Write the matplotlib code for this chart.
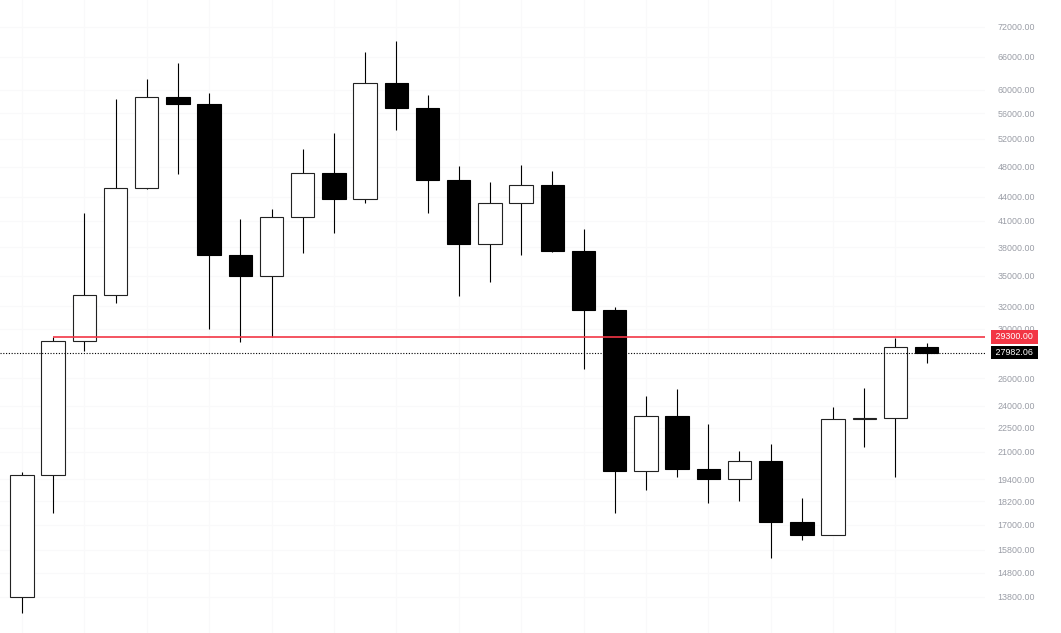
import numpy as np
import matplotlib.pyplot as plt
from matplotlib.transforms import blended_transform_factory

# monthly candles (log price scale)
opens = [13790, 19630, 28950, 33080, 45110, 58730, 57550, 37150, 34950, 41470,
         47110, 43690, 61160, 56880, 46170, 38350, 43160, 45500, 37580, 31670,
         19860, 23300, 19980, 19400, 20440, 17130, 16500, 23090, 23140, 28450]
highs = [19810, 29290, 41960, 58380, 61870, 64800, 59410, 41240, 42450, 50510,
         52900, 66900, 69080, 59060, 48080, 45900, 48220, 47390, 40060, 31950,
         24680, 25190, 22760, 21050, 21480, 18370, 23910, 25270, 29210, 28780]
lows = [13160, 17580, 28120, 32320, 44980, 46980, 29980, 28870, 29290, 37360,
        39590, 43190, 53370, 41960, 32990, 34350, 37150, 37500, 26700, 17580,
        18800, 19520, 18100, 18210, 15430, 16260, 16500, 21290, 19520, 27170]
closes = [19630, 28950, 33080, 45110, 58730, 57550, 37150, 34950, 41470, 47110,
          43690, 61160, 56880, 46170, 38350, 43160, 45500, 37580, 31670, 19860,
          23300, 19980, 19400, 20440, 17130, 16500, 23090, 23140, 28450, 27982.06]

level = 29300.00
last = 27982.06
ticks = [13800, 14800, 15800, 17000, 18200, 19400, 21000, 22500, 24000, 26000,
         30000, 32000, 35000, 38000, 41000, 44000, 48000, 52000, 56000, 60000,
         66000, 72000]

plt.rcParams['font.family'] = ['Liberation Sans', 'DejaVu Sans']

fig = plt.figure(figsize=(10.61, 6.33), dpi=100)
ax = fig.add_axes([0, 0, 985 / 1061, 1])

x = np.arange(len(opens))
o = np.array(opens, dtype=float)
c = np.array(closes, dtype=float)
h = np.array(highs, dtype=float)
l = np.array(lows, dtype=float)
up = c >= o

# very faint grid
for t in ticks:
    ax.axhline(t, color='#f9f9fa', lw=0.8, zorder=0)
for xi in x[::2]:
    ax.axvline(xi, color='#f9f9fa', lw=0.8, zorder=0)

ax.vlines(x, l, h, color='black', lw=0.8, zorder=2)
bottoms = np.minimum(o, c)
heights = np.maximum(np.abs(c - o), 1)
ax.bar(x[up], heights[up], bottom=bottoms[up], width=0.75,
       color='white', edgecolor='#222222', linewidth=0.8, zorder=3)
ax.bar(x[~up], heights[~up], bottom=bottoms[~up], width=0.75,
       color='black', edgecolor='black', linewidth=0.8, zorder=3)

ax.set_yscale('log')
ax.set_xlim(-0.705, 30.87)
ax.set_ylim(12420, 77790)

# horizontal level and last price line
ax.hlines(level, 1, 30.87, color='#f23645', lw=1.2, zorder=4)
ax.axhline(last, color='black', lw=0.8, ls=(0, (1, 1.5)), zorder=4)

ax.set_yticks(ticks)
ax.set_yticklabels(['%.2f' % t for t in ticks])
ax.yaxis.set_minor_locator(plt.NullLocator())
ax.yaxis.tick_right()
ax.tick_params(axis='y', length=0, pad=9, labelsize=6.4, labelcolor='#9a9da6')
ax.set_xticks([])
for s in ax.spines.values():
    s.set_visible(False)

tr = blended_transform_factory(fig.transFigure, ax.transData)
ax.text(1014.5 / 1061, level, ' %.2f ' % level, transform=tr, ha='center',
        va='center', fontsize=6.4, color='white', zorder=10, clip_on=False,
        bbox=dict(boxstyle='square,pad=0.25', fc='#f23645', ec='none'))
ax.text(1014.5 / 1061, last, ' %.2f ' % last, transform=tr, ha='center',
        va='center', fontsize=6.4, color='white', zorder=10, clip_on=False,
        bbox=dict(boxstyle='square,pad=0.25', fc='black', ec='none'))

fig.savefig('out.png', dpi=100, facecolor='white')
